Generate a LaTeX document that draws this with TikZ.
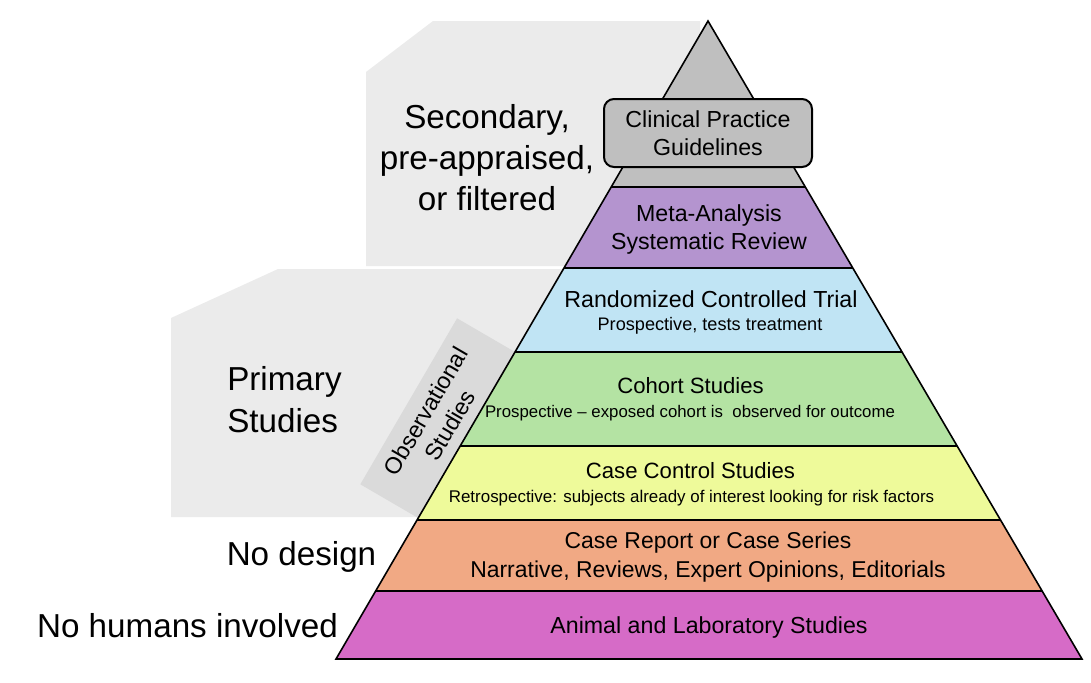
\documentclass[tikz,border=0pt]{standalone}
\usepackage{fontspec}
\setmainfont{Liberation Sans}
\usetikzlibrary{calc}
\definecolor{bggray}{HTML}{EBEBEB}
\definecolor{obsgray}{HTML}{DADADA}
\definecolor{topgray}{HTML}{BFBFBF}
\definecolor{metac}{HTML}{B494CF}
\definecolor{rctc}{HTML}{C0E4F4}
\definecolor{cohortc}{HTML}{B4E3A3}
\definecolor{ccc}{HTML}{EEFA9A}
\definecolor{crc}{HTML}{F1A984}
\definecolor{animc}{HTML}{D66BC7}
\newcommand\pyrband[3]{\fill[#3] ($(apex)!#1!(bl)$) -- ($(apex)!#1!(br)$) -- ($(apex)!#2!(br)$) -- ($(apex)!#2!(bl)$) -- cycle;}
\tikzset{
  bigtext/.style={font=\fontsize{24.9}{30.75}\selectfont, inner sep=0pt, align=center},
  midtext/.style={font=\fontsize{17.4}{21}\selectfont, inner sep=0pt, align=center},
  smltext/.style={font=\fontsize{13.6}{17}\selectfont, inner sep=0pt},
  sepline/.style={line width=1.5pt},
  outline/.style={line width=1.2pt, line join=miter},
}
\begin{document}
\begin{tikzpicture}[x=0.75pt,y=-0.75pt]
\useasboundingbox (0,0) rectangle (1091,682);
% background panels
\fill[bggray] (366,72) -- (433,21) -- (700,21) -- (700,266) -- (366,266) -- cycle;
\fill[bggray] (171,318) -- (278,269) -- (600,269) -- (600,517) -- (171,517) -- cycle;
\fill[obsgray] (515,352) -- (418.2,518) -- (360.3,484.3) -- (457.1,318.3) -- cycle;
% pyramid
\coordinate (apex) at (708,21);
\coordinate (bl) at (336,659);
\coordinate (br) at (1082,659);
\pyrband{0}{0.2602}{topgray}
\pyrband{0.2602}{0.3871}{metac}
\pyrband{0.3871}{0.5188}{rctc}
\pyrband{0.5188}{0.6661}{cohortc}
\pyrband{0.6661}{0.7821}{ccc}
\pyrband{0.7821}{0.8934}{crc}
\pyrband{0.8934}{1}{animc}
\foreach \t in {0.2602,0.3871,0.5188,0.6661,0.7821,0.8934}
  \draw[sepline] ($(apex)!\t!(bl)$) -- ($(apex)!\t!(br)$);
\draw[outline] (apex) -- (bl) -- (br) -- cycle;
% clinical practice box
\node[draw, line width=1.5pt, fill=topgray, rounded corners=7.5pt, minimum width=156pt, minimum height=51pt, midtext] (cpg) at (708,133) {Clinical Practice\\Guidelines};
% band texts
\node[midtext, anchor=base] (meta) at (709,249) {Meta-Analysis\\Systematic Review};
\node[midtext, anchor=base] (rct) at (711,307) {Randomized Controlled Trial};
\node[smltext, anchor=base] (rctsub) at (710,330) {Prospective, tests treatment};
\node[midtext, font=\fontsize{16.6}{21}\selectfont, anchor=base] (cohort) at (690.5,393) {Cohort Studies};
\node[smltext, font=\fontsize{12.6}{17}\selectfont, anchor=base] (cohortsub) at (690,417) {Prospective – exposed cohort is~ observed for outcome};
\node[midtext, font=\fontsize{16.6}{21}\selectfont, anchor=base] (cc) at (690.5,478) {Case Control Studies};
\node[smltext, font=\fontsize{12.7}{17}\selectfont, anchor=base] (ccsub) at (691.5,502) {Retrospective: subjects already of interest looking for risk factors};
\node[font=\fontsize{17.2}{21.75}\selectfont, inner sep=0pt, align=center, anchor=base] (cr) at (708,577) {Case Report or Case Series\\Narrative, Reviews, Expert Opinions, Editorials};
\node[midtext, anchor=base] (anim) at (709,633) {Animal and Laboratory Studies};
% side labels
\node[bigtext, anchor=base] (sec) at (487,210) {Secondary,\\pre-appraised,\\or filtered};
\node[font=\fontsize{24.9}{31.5}\selectfont, inner sep=0pt, align=left, anchor=base west] (prim) at (227,432) {Primary\\Studies};
\node[bigtext, anchor=base] (nodesign) at (301.5,565) {No design};
\node[bigtext, anchor=base] (nohum) at (187.5,637) {No humans involved};
\node[midtext, rotate=59.75] (obs) at (437.7,418.2) {Observational\\Studies};
\end{tikzpicture}
\end{document}
